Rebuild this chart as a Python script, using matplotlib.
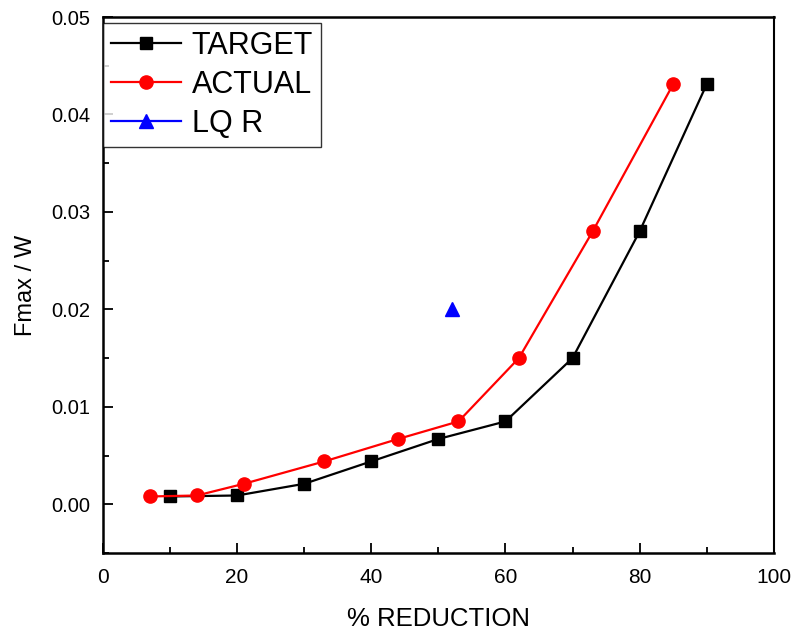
import matplotlib
matplotlib.use("Agg")
import matplotlib.pyplot as plt
from matplotlib.lines import Line2D
from matplotlib.ticker import MultipleLocator, FormatStrFormatter

plt.rcParams["font.family"] = ["Liberation Sans", "DejaVu Sans"]

# Target reduction vs. Fmax/W
target_x = [10, 20, 30, 40, 50, 60, 70, 80, 90]
target_y = [0.0008, 0.0009, 0.0021, 0.0044, 0.0067, 0.0085, 0.0150, 0.0280, 0.0431]

# Actual reduction vs. Fmax/W
actual_x = [7, 14, 21, 33, 44, 53, 62, 73, 85]
actual_y = [0.0008, 0.0009, 0.0021, 0.0044, 0.0067, 0.0085, 0.0150, 0.0280, 0.0431]

# LQ R single point
lqr_x = [52]
lqr_y = [0.0200]

series_labels = ["TARGET", "ACTUAL", "LQ R"]
x_label = "% REDUCTION"
y_label = "Fmax / W"

fig = plt.figure(figsize=(7.92, 6.33), dpi=100)
ax = fig.add_axes([0.130, 0.1264, 0.847, 0.8467])

ax.plot(target_x, target_y, color="black", marker="s", markersize=8.5, lw=1.6,
        label=series_labels[0])
ax.plot(actual_x, actual_y, color="red", marker="o", markersize=9.5, lw=1.6,
        label=series_labels[1])
ax.plot(lqr_x, lqr_y, color="blue", marker="^", markersize=10.5, lw=1.6,
        linestyle="none", label=series_labels[2])

ax.set_xlim(0, 100)
ax.set_ylim(-0.005, 0.05)
ax.xaxis.set_major_locator(MultipleLocator(20))
ax.xaxis.set_minor_locator(MultipleLocator(10))
ax.yaxis.set_major_locator(MultipleLocator(0.01))
ax.yaxis.set_minor_locator(MultipleLocator(0.005))
ax.yaxis.set_major_formatter(FormatStrFormatter("%.2f"))

ax.tick_params(which="both", direction="in", top=False, right=False)
ax.tick_params(which="major", length=7, width=1.3)
ax.tick_params(which="minor", length=4, width=1.3)
ax.tick_params(axis="y", labelsize=14.5, pad=9)
ax.tick_params(axis="x", labelsize=15, pad=11)

for side in ["left", "bottom", "top"]:
    ax.spines[side].set_linewidth(1.8)
ax.spines["right"].set_linewidth(1.5)

ax.set_xlabel(x_label, fontsize=18.5, labelpad=14)
ax.set_ylabel(y_label, fontsize=17, labelpad=10)

# legend with a straight line through each marker
handles = [
    Line2D([], [], color="black", marker="s", markersize=8.5, lw=1.6),
    Line2D([], [], color="red", marker="o", markersize=9.5, lw=1.6),
    Line2D([], [], color="blue", marker="^", markersize=10.5, lw=1.6),
]
leg = ax.legend(handles, series_labels, loc="upper left",
                bbox_to_anchor=(0.0, 0.989), fontsize=22,
                frameon=True, fancybox=False, edgecolor="black",
                handlelength=2.3, handletextpad=0.35, borderpad=0.25,
                labelspacing=0.3, borderaxespad=0.0)
leg.get_frame().set_linewidth(1.0)

fig.savefig("out.png", dpi=100)
